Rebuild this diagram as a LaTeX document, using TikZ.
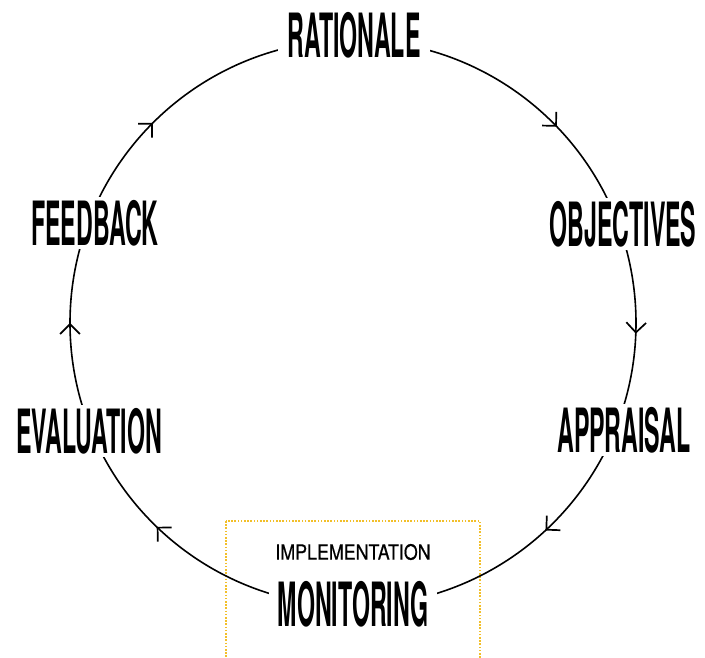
\documentclass[tikz,border=0pt]{standalone}
\usepackage{fontspec}
\usetikzlibrary{arrows.meta,decorations.markings}

% narrow heavy caps for the stage names
\newfontfamily\stagefont[FakeStretch=0.38]{TeX Gyre Heros}
\newfontfamily\notefont[FakeStretch=0.85,FakeBold=0.6]{TeX Gyre Heros}
\definecolor{boxyellow}{HTML}{F2BF2A}

\begin{document}
\begin{tikzpicture}[x=1pt, y=-1pt,
  stage/.style={fill=white, inner xsep=9pt, inner ysep=3pt,
    font=\stagefont\bfseries\fontsize{61}{61}\selectfont},
  note/.style={inner sep=0pt, font=\notefont\fontsize{21}{21}\selectfont},
  implbox/.style={draw=boxyellow, line width=1.8pt, dash pattern=on 1.6pt off 1.6pt},
  barb/.style={line width=1.7pt},
  ring/.style={line width=1.6pt, postaction=decorate,
    decoration={markings,
      mark=at position 0.128 with {\arrow[barb]{Straight Barb[angle=90:14pt]}},
      mark=at position 0.256 with {\arrow[barb]{Straight Barb[angle=90:14pt]}},
      mark=at position 0.381 with {\arrow[barb]{Straight Barb[angle=90:14pt]}},
      mark=at position 0.622 with {\arrow[barb]{Straight Barb[angle=90:14pt]}},
      mark=at position 0.750 with {\arrow[barb]{Straight Barb[angle=90:14pt]}},
      mark=at position 0.875 with {\arrow[barb]{Straight Barb[angle=90:14pt]}}}}]
\useasboundingbox (0,0) rectangle (705,658);

% dotted frame round the implementation stage
\draw[implbox] (226,521) rectangle (480,680);

% the cycle, clockwise from the top
\coordinate (hub) at (353,323);
\draw[ring] (hub) ++(0,-283) arc[start angle=-90, end angle=270, radius=283];

% stages
\node[stage] (rationale)  at (354,35)  {RATIONALE};
\node[stage] (objectives) at (623,224) {OBJECTIVES};
\node[stage] (appraisal)  at (624,430) {APPRAISAL};
\node[stage] (monitoring) at (353,604) {MONITORING};
\node[stage] (evaluation) at (89,431)  {EVALUATION};
\node[stage] (feedback)   at (95,223)  {FEEDBACK};

\node[note] (implementation) at (353,552) {IMPLEMENTATION};
\end{tikzpicture}
\end{document}
